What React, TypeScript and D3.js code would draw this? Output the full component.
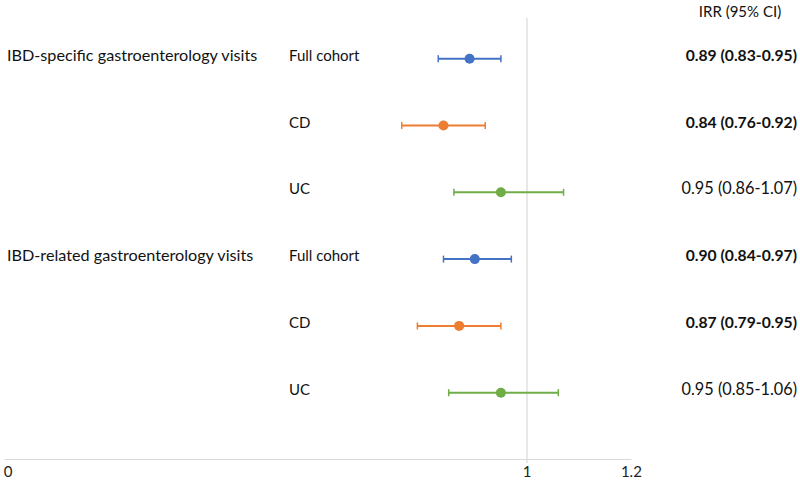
import React from "react";
import * as d3 from "d3";

const groups = ["IBD-specific gastroenterology visits", "IBD-related gastroenterology visits"];
const subgroups = ["Full cohort", "CD", "UC", "Full cohort", "CD", "UC"];
const irr = [0.89, 0.84, 0.95, 0.9, 0.87, 0.95];
const lower = [0.83, 0.76, 0.86, 0.84, 0.79, 0.85];
const upper = [0.95, 0.92, 1.07, 0.97, 0.95, 1.06];
const labels = [
  "0.89 (0.83-0.95)",
  "0.84 (0.76-0.92)",
  "0.95 (0.86-1.07)",
  "0.90 (0.84-0.97)",
  "0.87 (0.79-0.95)",
  "0.95 (0.85-1.06)",
];
const significant = [true, true, false, true, true, false];
const colors = ["#4472C4", "#ED7D31", "#70AD47", "#4472C4", "#ED7D31", "#70AD47"];
const xTicks = [0, 1, 1.2];

const W = 800;
const H = 482;
const FONT = "Lato, 'Open Sans', sans-serif";

export default function App() {
  const x = d3.scaleLinear().domain([0, 1.2]).range([5, 631.4]);
  const y = d3.scaleLinear().domain([0, 6]).range([459.5, 58.7]);
  const rowY = (i: number) => y(6 - i);

  return (
    <svg width={W} height={H} style={{ position: "absolute", left: 0, top: 0 }}>
      <rect width={W} height={H} fill="#fff" />
      <line x1={x(1)} x2={x(1)} y1={18} y2={463} stroke="#d9d9d9" strokeWidth={1.2} />
      <line x1={x(0)} x2={x(1.2)} y1={y(0)} y2={y(0)} stroke="#d9d9d9" strokeWidth={1.2} />
      {xTicks.map((t) => (
        <text key={t} x={x(t) + (t === 0 ? 3 : 0)} y={477} textAnchor="middle" fontFamily={FONT} fontSize={15} fill="#222">
          {String(t)}
        </text>
      ))}
      {groups.map((g, gi) => (
        <text key={g} x={7} y={rowY(gi * 3) + 2} fontFamily={FONT} fontSize={16.2} fill="#111">
          {g}
        </text>
      ))}
      {subgroups.map((s, i) => (
        <text key={i} x={289} y={rowY(i) + 2} fontFamily={FONT} fontSize={15} fill="#111">
          {s}
        </text>
      ))}
      <text x={740} y={17} textAnchor="middle" fontFamily={FONT} fontSize={15} fill="#111">
        IRR (95% CI)
      </text>
      {labels.map((l, i) => (
        <text
          key={i}
          x={797}
          y={rowY(i) + 2}
          textAnchor="end"
          fontFamily={FONT}
          fontSize={significant[i] ? 15.7 : 16.3}
          fontWeight={significant[i] ? 700 : 400}
          fill="#111"
        >
          {l}
        </text>
      ))}
      {irr.map((v, i) => {
        const cy = rowY(i);
        return (
          <g key={i} stroke={colors[i]} fill={colors[i]}>
            <line x1={x(lower[i])} x2={x(upper[i])} y1={cy} y2={cy} strokeWidth={2} />
            <line x1={x(lower[i])} x2={x(lower[i])} y1={cy - 3.5} y2={cy + 3.5} strokeWidth={1.5} />
            <line x1={x(upper[i])} x2={x(upper[i])} y1={cy - 3.5} y2={cy + 3.5} strokeWidth={1.5} />
            <circle cx={x(v)} cy={cy} r={5} stroke="none" />
          </g>
        );
      })}
    </svg>
  );
}
